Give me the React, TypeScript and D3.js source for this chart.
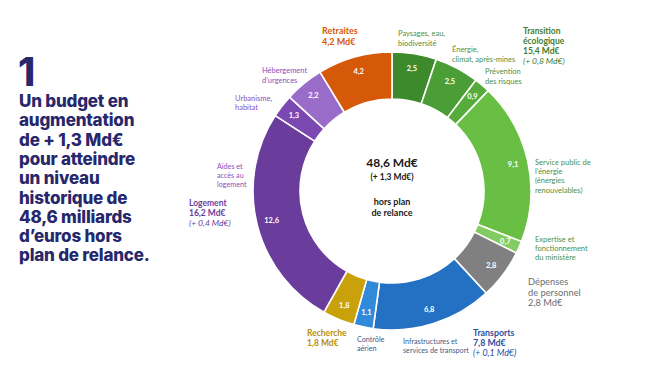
import React from 'react';
import * as d3 from 'd3';

// Slices, clockwise from 12 o'clock
const sliceNames = [
  'Paysages, eau, biodiversité',
  'Énergie, climat, après-mines',
  'Prévention des risques',
  "Service public de l'énergie",
  'Expertise et fonctionnement du ministère',
  'Dépenses de personnel',
  'Infrastructures et services de transport',
  'Contrôle aérien',
  'Recherche',
  'Aides et accès au logement',
  'Urbanisme, habitat',
  "Hébergement d'urgences",
  'Retraites',
];
const sliceValues = [2.5, 2.5, 0.9, 9.1, 0.7, 2.8, 6.8, 1.1, 1.8, 12.6, 1.3, 2.2, 4.2];
const sliceColors = [
  '#3d8a2c', '#4a9e35', '#55ac3b', '#68bf43', '#82cc62', '#808080',
  '#2470c2', '#3189da', '#c9a10a', '#6a3d9c', '#7b48b2', '#9a6cc9', '#d6590a',
];

const introLines = [
  'Un budget en', 'augmentation', 'de + 1,3 Md€', 'pour atteindre', 'un niveau',
  'historique de', '48,6 milliards', 'd’euros hors', 'plan de relance.',
];
const centerLines = ['48,6 Md€', '(+ 1,3 Md€)', 'hors plan', 'de relance'];

// Annotation text blocks
type Line = { t: string; b?: boolean; i?: boolean };
type Note = { x: number; y: number; color: string; size: number; lh: number; lines: Line[] };
const notes: Note[] = [
  { x: 322, y: 34, color: '#d6590a', size: 9, lh: 11, lines: [{ t: 'Retraites', b: true }, { t: '4,2 Md€', b: true }] },
  { x: 398, y: 36, color: '#4f8f3f', size: 7.5, lh: 9.5, lines: [{ t: 'Paysages, eau,' }, { t: 'biodiversité' }] },
  { x: 452, y: 52, color: '#4f8f3f', size: 7.5, lh: 9.5, lines: [{ t: 'Énergie,' }, { t: 'climat, après-mines' }] },
  { x: 485, y: 74, color: '#4f8f3f', size: 7.5, lh: 9.5, lines: [{ t: 'Prévention' }, { t: 'des risques' }] },
  {
    x: 523, y: 34, color: '#3e7d30', size: 8.5, lh: 10,
    lines: [{ t: 'Transition', b: true }, { t: 'écologique', b: true }, { t: '15,4 Md€', b: true }, { t: '(+ 0,8 Md€)', i: true }],
  },
  {
    x: 535, y: 165, color: '#4f8f3f', size: 7.5, lh: 9.2,
    lines: [{ t: 'Service public de' }, { t: 'l’énergie' }, { t: '(énergies' }, { t: 'renouvelables)' }],
  },
  { x: 535, y: 242, color: '#4f8f3f', size: 7.5, lh: 9.2, lines: [{ t: 'Expertise et' }, { t: 'fonctionnement' }, { t: 'du ministère' }] },
  { x: 528, y: 285, color: '#6e6e6e', size: 9.3, lh: 10.5, lines: [{ t: 'Dépenses' }, { t: 'de personnel' }, { t: '2,8 Md€' }] },
  {
    x: 473, y: 336, color: '#2b4f9e', size: 8.8, lh: 9.8,
    lines: [{ t: 'Transports', b: true }, { t: '7,8 Md€', b: true }, { t: '(+ 0,1 Md€)', i: true }],
  },
  { x: 403, y: 344, color: '#3f5a8a', size: 7.2, lh: 9.2, lines: [{ t: 'Infrastructures et' }, { t: 'services de transport' }] },
  { x: 357, y: 342, color: '#3f5a8a', size: 7.2, lh: 9.2, lines: [{ t: 'Contrôle' }, { t: 'aérien' }] },
  { x: 307, y: 336, color: '#b8900a', size: 8.5, lh: 10, lines: [{ t: 'Recherche', b: true }, { t: '1,8 Md€', b: true }] },
  { x: 217, y: 169, color: '#8a50bb', size: 7.2, lh: 9, lines: [{ t: 'Aides et' }, { t: 'accès au' }, { t: 'logement' }] },
  {
    x: 189, y: 206, color: '#6a3d9c', size: 8.5, lh: 10,
    lines: [{ t: 'Logement', b: true }, { t: '16,2 Md€', b: true }, { t: '(+ 0,4 Md€)', i: true }],
  },
  { x: 235, y: 101, color: '#8a50bb', size: 7.5, lh: 9, lines: [{ t: 'Urbanisme,' }, { t: 'habitat' }] },
  { x: 262, y: 73, color: '#8a50bb', size: 7.5, lh: 9.5, lines: [{ t: 'Hébergement' }, { t: 'd’urgences' }] },
];

const width = 660;
const height = 388;
const cx = 392;
const cy = 191;
const outerR = 139;
const innerR = 92;
const labelR = 124;

const fr = d3.formatLocale({ decimal: ',', thousands: ' ', grouping: [3], currency: ['', ' €'] });
const fmt = fr.format('.1f');

type Slice = { name: string; value: number; color: string };

const App: React.FC = () => {
  const data: Slice[] = sliceNames.map((name, i) => ({ name, value: sliceValues[i], color: sliceColors[i] }));
  const pie = d3.pie<Slice>().value((d) => d.value).sort(null);
  const arcs = pie(data);
  const arc = d3.arc<d3.PieArcDatum<Slice>>().innerRadius(innerR).outerRadius(outerR);
  const labelArc = d3.arc<d3.PieArcDatum<Slice>>().innerRadius(labelR).outerRadius(labelR);

  const font = 'Lato, "Open Sans", sans-serif';

  return (
    <svg width={width} height={height} style={{ position: 'absolute', left: 0, top: 0, background: '#fff' }}>
      {/* Left headline */}
      <g fill="#27276b" fontFamily='Inter, "Noto Sans", sans-serif' fontWeight={800}>
        <text x={18} y={86} fontSize={39}>1</text>
        {introLines.map((l, i) => (
          <text key={l} x={19} y={107 + i * 19.3} fontSize={17} letterSpacing={-0.2}>
            {l}
          </text>
        ))}
      </g>

      {/* Donut */}
      <g transform={`translate(${cx},${cy})`}>
        {arcs.map((d) => (
          <path key={d.data.name} d={arc(d) as string} fill={d.data.color} stroke="#fff" strokeWidth={1.6} />
        ))}
        {arcs.map((d) => {
          const [x, y] = labelArc.centroid(d);
          return (
            <text
              key={d.data.name + '-v'}
              x={x}
              y={y}
              dy="0.35em"
              textAnchor="middle"
              fill="#fff"
              fontSize={7.5}
              fontWeight={700}
              fontFamily={font}
            >
              {fmt(d.data.value)}
            </text>
          );
        })}
        <g textAnchor="middle" fill="#1a1a1a" fontFamily={font}>
          <text y={-24} fontSize={12} fontWeight={700}>{centerLines[0]}</text>
          <text y={-11} fontSize={8.5} fontWeight={700}>{centerLines[1]}</text>
          <text y={14} fontSize={9} fontWeight={700}>{centerLines[2]}</text>
          <text y={25} fontSize={9} fontWeight={700}>{centerLines[3]}</text>
        </g>
      </g>

      {/* Annotations */}
      <g fontFamily={font}>
        {notes.map((n, k) => (
          <text key={k} x={n.x} y={n.y} fill={n.color} fontSize={n.size}>
            {n.lines.map((l, i) => (
              <tspan
                key={i}
                x={n.x}
                dy={i === 0 ? 0 : n.lh}
                fontWeight={l.b ? 700 : 400}
                fontStyle={l.i ? 'italic' : 'normal'}
              >
                {l.t}
              </tspan>
            ))}
          </text>
        ))}
      </g>
    </svg>
  );
};

export default App;
